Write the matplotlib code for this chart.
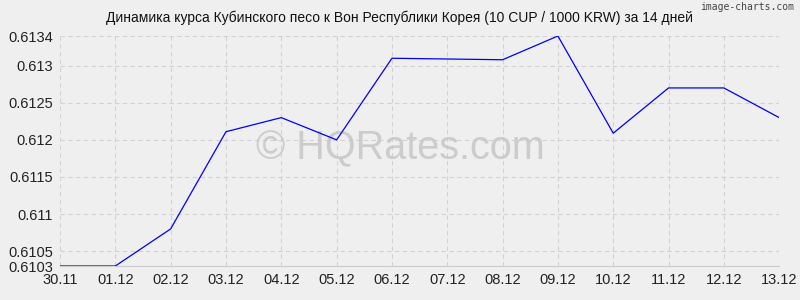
import matplotlib.pyplot as plt

dates = ["30.11", "01.12", "02.12", "03.12", "04.12", "05.12", "06.12",
         "07.12", "08.12", "09.12", "10.12", "11.12", "12.12", "13.12"]
rates = [0.6103, 0.6103, 0.6108, 0.61211, 0.6123, 0.6120, 0.61310,
         0.61309, 0.61308, 0.6134, 0.61209, 0.61270, 0.61270, 0.6123]
yticks = [0.6103, 0.6105, 0.611, 0.6115, 0.612, 0.6125, 0.613, 0.6134]
ytick_labels = ["0.6103", "0.6105", "0.611", "0.6115", "0.612", "0.6125", "0.613", "0.6134"]

plt.rcParams['font.family'] = ['Liberation Sans', 'DejaVu Sans']
bg = "#efefef"

fig = plt.figure(figsize=(8, 3), dpi=100, facecolor=bg)
ax = fig.add_axes([0.075, 0.1133, 0.899, 0.7667], facecolor=bg)

x = range(len(dates))
ax.plot(x, rates, color="#0000ff", linewidth=0.9, zorder=3)

ax.set_xlim(0, len(dates) - 1)
ax.set_ylim(0.6103, 0.6134)
ax.set_xticks(list(x))
ax.set_xticklabels(dates)
ax.set_yticks(yticks)
ax.set_yticklabels(ytick_labels)
ax.tick_params(length=0, labelsize=10.5, colors="#222222", pad=5)
ax.grid(True, color="#d2d2d2", linestyle=(0, (4, 3)), linewidth=0.8)
for s in ["top", "right", "left"]:
    ax.spines[s].set_visible(False)
ax.spines["bottom"].set_color("#cccccc")

fig.text(0.5, 0.94, "Динамика курса Кубинского песо к Вон Республики Корея (10 CUP / 1000 KRW) за 14 дней",
         ha="center", va="center", fontsize=10, color="#111111")
fig.text(0.993, 0.975, "image-charts.com", ha="right", va="center", fontsize=7,
         color="#444444", family="DejaVu Sans Mono")
# watermark under the line
ax.text(0.5, 0.507, "© HQRates.com", transform=fig.transFigure, ha="center", va="center",
        fontsize=28.5, color="#c4c4c4", alpha=0.8, zorder=2)

fig.savefig("out.png", dpi=100, facecolor=bg)
